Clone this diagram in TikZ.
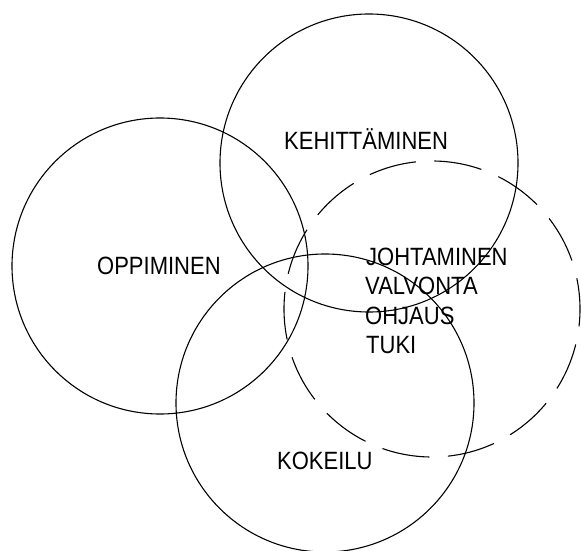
\documentclass[tikz,border=0pt]{standalone}
\usepackage{fontspec}
\newfontfamily\labelfont{Liberation Sans}[FakeStretch=0.88]
\begin{document}
\begin{tikzpicture}[x=1pt,y=1pt,
  ring/.style={draw=black,line width=1.1pt},
  dashring/.style={draw=black,line width=1.1pt,dash pattern=on 48pt off 18.4pt,dash phase=17pt},
  lbl/.style={anchor=base west,inner sep=0pt,font=\labelfont\fontsize{25}{30}\selectfont}]
\useasboundingbox (0,0) rectangle (581,550);
\fill[white] (0,0) rectangle (581,550);
\coordinate (copp) at (160,284);
\coordinate (ckeh) at (369,387);
\coordinate (ckok) at (325,147);
\coordinate (cjoh) at (432,241);
\draw[ring] (copp) circle[radius=148];
\draw[ring] (ckeh) circle[radius=149];
\draw[ring] (ckok) circle[radius=149];
\draw[dashring] (cjoh) circle[radius=148];
\node[lbl] (keh) at (284,400) {KEHITTÄMINEN};
\node[lbl] (opp) at (97,276) {OPPIMINEN};
\node[lbl] (joh) at (366,285) {JOHTAMINEN};
\node[lbl] (val) at (365,256) {VALVONTA};
\node[lbl] (ohj) at (365,226) {OHJAUS};
\node[lbl] (tuk) at (366,197) {TUKI};
\node[lbl] (kok) at (277,81) {KOKEILU};
\end{tikzpicture}
\end{document}
